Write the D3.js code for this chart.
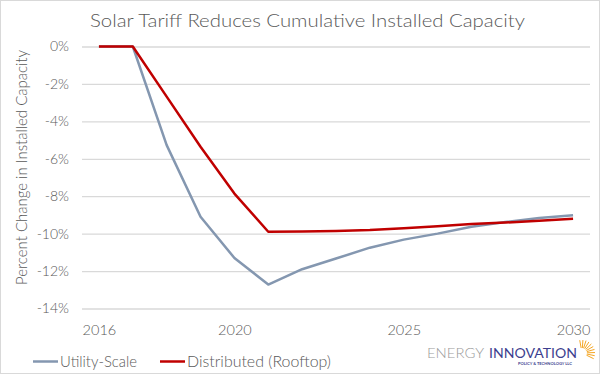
<!DOCTYPE html>
<html>
<head>
<meta charset="utf-8">
<script src="https://cdn.jsdelivr.net/npm/d3@7"></script>
<style>
  html, body { margin: 0; padding: 0; background: #fff; }
  svg { display: block; font-family: "Lato", "Noto Sans", sans-serif; font-weight: 300; }
</style>
</head>
<body>
<div id="chart"></div>
<script>
const years = [2016, 2017, 2018, 2019, 2020, 2021, 2022, 2023, 2024, 2025, 2026, 2027, 2028, 2029, 2030];
const utilityScale = [0, 0, -5.27, -9.1, -11.3, -12.72, -11.9, -11.33, -10.75, -10.32, -10.0, -9.63, -9.38, -9.17, -9.02];
const distributed = [0, 0, -2.68, -5.36, -7.86, -9.9, -9.88, -9.86, -9.81, -9.71, -9.6, -9.49, -9.41, -9.31, -9.2];
const yTicks = [0, -2, -4, -6, -8, -10, -12, -14];
const xTicks = [2016, 2020, 2025, 2030];
const seriesNames = ["Utility-Scale", "Distributed (Rooftop)"];

const W = 600, H = 374;
const colors = ["#8497b0", "#c00000"];
const textColor = "#595959";

const svg = d3.select("#chart").append("svg")
    .attr("width", W)
    .attr("height", H);

// outer frame
svg.append("rect")
    .attr("x", 0.5).attr("y", 0.5)
    .attr("width", W - 1).attr("height", H - 1)
    .attr("fill", "#fff")
    .attr("stroke", "#d9d9d9");

const x = d3.scaleLinear().domain([2015.5, 2030.5]).range([82, 590]);
const y = d3.scaleLinear().domain([-14, 0]).range([308.5, 46.5]);

// title
svg.append("text")
    .attr("x", 90).attr("y", 26.5)
    .attr("fill", textColor)
    .attr("font-size", 17.5)
    .attr("textLength", 435)
    .attr("lengthAdjust", "spacingAndGlyphs")
    .text("Solar Tariff Reduces Cumulative Installed Capacity");

// gridlines
svg.append("g")
    .attr("transform", `translate(${x.range()[0]},0)`)
    .call(d3.axisLeft(y).tickValues(yTicks).tickSize(-(x.range()[1] - x.range()[0])).tickFormat(""))
    .call(g => g.select(".domain").remove())
    .call(g => g.selectAll("line").attr("stroke", "#d9d9d9").attr("stroke-width", 1.3));

// y labels
svg.append("g")
    .attr("transform", "translate(69,0)")
    .call(d3.axisLeft(y).tickValues(yTicks).tickSize(0).tickPadding(0).tickFormat(d => d + "%"))
    .call(g => g.select(".domain").remove())
    .call(g => g.selectAll("text")
        .attr("fill", textColor)
        .attr("font-size", 14)
        .attr("font-family", "Lato, sans-serif"));

// x labels
svg.append("g")
    .attr("transform", "translate(0,325)")
    .call(d3.axisBottom(x).tickValues(xTicks).tickSize(0).tickPadding(0).tickFormat(d3.format("d")))
    .call(g => g.select(".domain").remove())
    .call(g => g.selectAll("text")
        .attr("fill", textColor)
        .attr("font-size", 14.5)
        .attr("font-family", "Lato, sans-serif"));

// y-axis title
svg.append("text")
    .attr("transform", "translate(27,167.5) rotate(-90)")
    .attr("text-anchor", "middle")
    .attr("fill", textColor)
    .attr("font-size", 15)
    .attr("textLength", 235)
    .attr("lengthAdjust", "spacingAndGlyphs")
    .text("Percent Change in Installed Capacity");

// lines
const line = d3.line()
    .x((d, i) => x(years[i]))
    .y(d => y(d));

[utilityScale, distributed].forEach((vals, k) => {
    svg.append("path")
        .datum(vals)
        .attr("fill", "none")
        .attr("stroke", colors[k])
        .attr("stroke-width", 2.5)
        .attr("stroke-linejoin", "round")
        .attr("d", line);
});

// legend
const legendX = [33, 160];
const legendW = [77, 144];
seriesNames.forEach((name, k) => {
    const g = svg.append("g").attr("transform", `translate(${legendX[k]},361.5)`);
    g.append("line")
        .attr("x1", 0).attr("x2", 25)
        .attr("stroke", colors[k])
        .attr("stroke-width", 2.5);
    g.append("text")
        .attr("x", 27).attr("y", 5)
        .attr("fill", textColor)
        .attr("font-size", 15)
        .attr("textLength", legendW[k])
        .attr("lengthAdjust", "spacingAndGlyphs")
        .text(name);
});

// logo
const logo = svg.append("g");
logo.append("text")
    .attr("x", 427).attr("y", 357.5)
    .attr("fill", "#9a9a9a")
    .attr("font-size", 13)
    .attr("textLength", 57)
    .attr("lengthAdjust", "spacingAndGlyphs")
    .text("ENERGY");
logo.append("text")
    .attr("x", 489).attr("y", 357.5)
    .attr("fill", "#3d3f8f")
    .attr("font-size", 13)
    .attr("font-weight", 400)
    .attr("textLength", 88)
    .attr("lengthAdjust", "spacingAndGlyphs")
    .text("INNOVATION");
logo.append("text")
    .attr("x", 518).attr("y", 364.5)
    .attr("fill", "#3d3f8f")
    .attr("font-size", 4.5)
    .attr("font-weight", "bold")
    .attr("textLength", 54)
    .attr("lengthAdjust", "spacingAndGlyphs")
    .text("POLICY & TECHNOLOGY LLC");
const rays = d3.range(-100, 30, 14);
logo.append("g")
    .selectAll("line")
    .data(rays)
    .join("line")
    .attr("x1", d => 582 + 5 * Math.cos(d * Math.PI / 180))
    .attr("y1", d => 353 + 5 * Math.sin(d * Math.PI / 180))
    .attr("x2", d => 582 + 13 * Math.cos(d * Math.PI / 180))
    .attr("y2", d => 353 + 13 * Math.sin(d * Math.PI / 180))
    .attr("stroke", "#f5a623")
    .attr("stroke-width", 1);
</script>
</body>
</html>
